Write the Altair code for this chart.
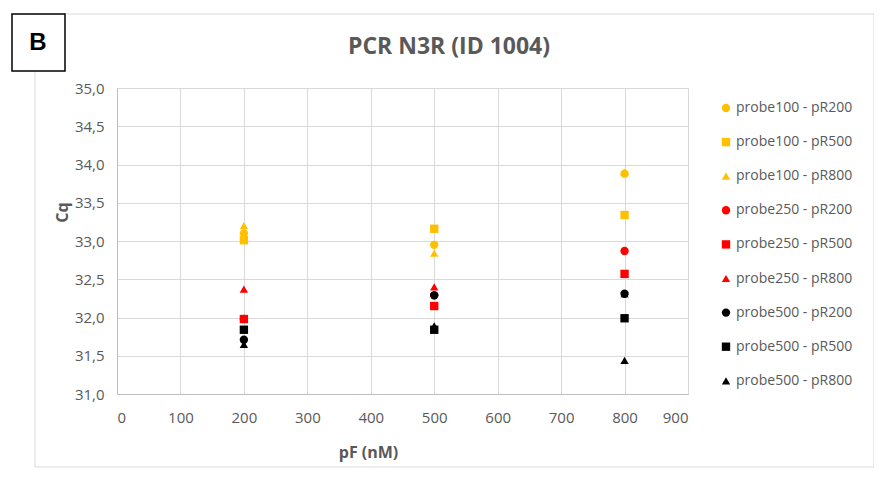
import altair as alt
import pandas as pd

# ---- data ----
series = [
    "probe100 - pR200", "probe100 - pR500", "probe100 - pR800",
    "probe250 - pR200", "probe250 - pR500", "probe250 - pR800",
    "probe500 - pR200", "probe500 - pR500", "probe500 - pR800",
]
pf_values = [200, 500, 800]

cq_probe100_pR200 = [33.10, 32.95, 33.88]
cq_probe100_pR500 = [33.01, 33.16, 33.34]
cq_probe100_pR800 = [33.20, 32.84, 33.90]
cq_probe250_pR200 = [31.98, 32.29, 32.87]
cq_probe250_pR500 = [31.98, 32.15, 32.57]
cq_probe250_pR800 = [32.37, 32.40, 32.31]
cq_probe500_pR200 = [31.71, 32.29, 32.31]
cq_probe500_pR500 = [31.84, 31.84, 31.99]
cq_probe500_pR800 = [31.65, 31.89, 31.44]

all_cq = [
    cq_probe100_pR200, cq_probe100_pR500, cq_probe100_pR800,
    cq_probe250_pR200, cq_probe250_pR500, cq_probe250_pR800,
    cq_probe500_pR200, cq_probe500_pR500, cq_probe500_pR800,
]

colors = ["#FFC000"] * 3 + ["#FF0000"] * 3 + ["#000000"] * 3
shapes = ["circle", "square", "triangle-up"] * 3
sizes = [70, 70, 120, 70, 70, 85, 70, 70, 70]

x_ticks = [0, 100, 200, 300, 400, 500, 600, 700, 800, 900]
y_ticks = [31.0, 31.5, 32.0, 32.5, 33.0, 33.5, 34.0, 34.5, 35.0]

chart_title = "PCR N3R (ID 1004)"
panel_label = "B"

rows = []
for si, (name, vals) in enumerate(zip(series, all_cq)):
    for pf, cq in zip(pf_values, vals):
        rows.append({"series": name, "order": si, "pF": pf, "Cq": cq})
df = pd.DataFrame(rows)

FONT = "Open Sans"
GREY = "#595959"

one = pd.DataFrame({"k": [0]})

frame = alt.Chart(one).mark_rect(fill=None, stroke="#d9d9d9", strokeWidth=1).encode(
    x=alt.value(-82), x2=alt.value(757), y=alt.value(-74), y2=alt.value(379)
)
bbox = alt.Chart(one).mark_rect(fill="white", stroke="black", strokeWidth=1.5).encode(
    x=alt.value(-105), x2=alt.value(-52), y=alt.value(-74), y2=alt.value(-17)
)
btext = alt.Chart(pd.DataFrame({"t": [panel_label]})).mark_text(
    font="Liberation Sans", fontSize=24, fontWeight="bold", color="black"
).encode(x=alt.value(-79), y=alt.value(-45), text="t:N")

ttext = alt.Chart(pd.DataFrame({"t": [chart_title]})).mark_text(
    font=FONT, fontSize=23, fontWeight="bold", color=GREY
).encode(x=alt.value(332), y=alt.value(-41), text="t:N")

points = alt.Chart(df).mark_point(filled=True, opacity=1, strokeWidth=0).encode(
    x=alt.X("pF:Q", title="pF (nM)",
            scale=alt.Scale(domain=[0, 900], nice=False),
            axis=alt.Axis(values=x_ticks, titleX=251, titleY=58, titleBaseline="middle")),
    y=alt.Y("Cq:Q", title="Cq",
            scale=alt.Scale(domain=[31, 35], nice=False, zero=False),
            axis=alt.Axis(values=y_ticks, titleX=-55, titleY=124, titleBaseline="middle",
                          labelExpr="replace(format(datum.value, '.1f'), '.', ',')")),
    color=alt.Color("series:N", scale=alt.Scale(domain=series, range=colors),
                    legend=alt.Legend(title=None)),
    shape=alt.Shape("series:N", scale=alt.Scale(domain=series, range=shapes),
                    legend=alt.Legend(title=None)),
    size=alt.Size("series:N", scale=alt.Scale(domain=series, range=sizes),
                  legend=alt.Legend(title=None)),
    order=alt.Order("order:Q"),
)

chart = alt.layer(frame, bbox, btext, ttext, points).properties(
    width=571, height=306,
    padding={"left": 109, "top": 80, "right": 186, "bottom": 74},
    autosize=alt.AutoSizeParams(type="none"),
    background="white",
).configure_view(stroke=None).configure_axis(
    labelFont=FONT, labelFontSize=15, labelColor=GREY,
    titleFont=FONT, titleFontSize=16, titleFontWeight="bold", titleColor=GREY,
    grid=True, gridColor="#d9d9d9", gridWidth=1,
    domainColor="#bfbfbf", ticks=False,
).configure_axisY(labelPadding=13, titleAngle=-90).configure_axisX(labelPadding=16).configure_legend(
    orient="none", legendX=602, legendY=13, rowPadding=20.1,
    labelFont=FONT, labelFontSize=14, labelColor=GREY, labelOffset=3,
    symbolStrokeWidth=0, labelLimit=200,
)

chart.save("out.html", embed_options={"renderer": "svg", "actions": False})
